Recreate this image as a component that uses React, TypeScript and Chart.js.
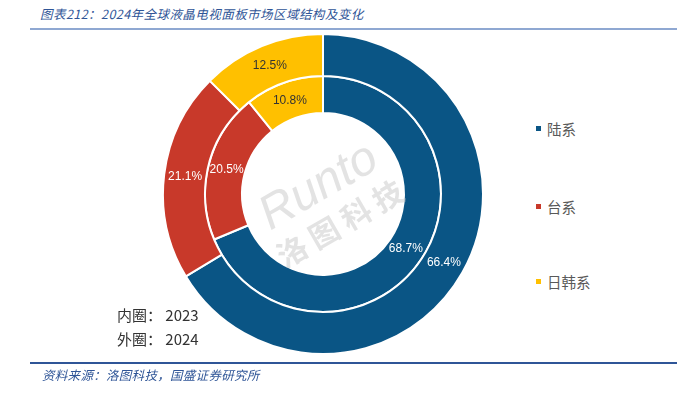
import React, { useEffect, useRef } from "react";
import { Chart, registerables } from "chart.js";

Chart.register(...registerables);

const categories = ["陆系", "台系", "日韩系"];
const outer2024 = [66.4, 21.1, 12.5];
const inner2023 = [68.7, 20.5, 10.8];
const colors = ["#0A5585", "#C8392A", "#FFC000"];
const labelColors = ["#FFFFFF", "#FFFFFF", "#333333"];

const CJK = '"Noto Sans CJK SC", "Noto Sans", sans-serif';

const labelPlugin = {
  id: "pctLabels",
  afterDatasetsDraw(chart: any) {
    const ctx = chart.ctx;
    ctx.save();
    ctx.font = '12px "Liberation Sans", Arial, sans-serif';
    ctx.textAlign = "center";
    ctx.textBaseline = "middle";
    chart.data.datasets.forEach((ds: any, di: number) => {
      const meta = chart.getDatasetMeta(di);
      meta.data.forEach((arc: any, i: number) => {
        const p = arc.tooltipPosition();
        ctx.fillStyle = labelColors[i];
        ctx.fillText(ds.data[i].toFixed(1) + "%", p.x, p.y);
      });
    });
    ctx.restore();
  },
};

const watermarkPlugin = {
  id: "watermark",
  afterDatasetsDraw(chart: any) {
    const ctx = chart.ctx;
    const meta = chart.getDatasetMeta(0);
    if (!meta.data.length) return;
    const cx = meta.data[0].x;
    const cy = meta.data[0].y;
    ctx.save();
    ctx.translate(cx, cy);
    ctx.rotate(-Math.PI / 6);
    ctx.fillStyle = "rgba(200,200,200,0.5)";
    ctx.textAlign = "center";
    ctx.textBaseline = "middle";
    ctx.font = 'italic 48px "Liberation Sans", Arial, sans-serif';
    ctx.fillText("Runto", 0, -8);
    ctx.font = "bold 30px " + CJK;
    ctx.fillText("洛 图 科 技", 0, 34);
    ctx.restore();
  },
};

export default function App() {
  const ref = useRef<HTMLCanvasElement>(null);

  useEffect(() => {
    document.body.style.margin = "0";
    const chart = new Chart(ref.current as HTMLCanvasElement, {
      type: "doughnut",
      data: {
        labels: categories,
        datasets: [
          {
            label: "2024",
            data: outer2024,
            backgroundColor: colors,
            borderColor: "#FFFFFF",
            borderWidth: 2,
            weight: 42,
          },
          {
            label: "2023",
            data: inner2023,
            backgroundColor: colors,
            borderColor: "#FFFFFF",
            borderWidth: 2,
            weight: 37,
          },
        ],
      },
      options: {
        responsive: false,
        animation: false,
        cutout: "50.6%",
        layout: { padding: 0 },
        plugins: {
          legend: { display: false },
          tooltip: { enabled: false },
        },
      },
      plugins: [watermarkPlugin, labelPlugin],
    } as any);
    return () => chart.destroy();
  }, []);

  const legendItem = (i: number, top: number) => (
    <div
      key={i}
      style={{
        position: "absolute",
        left: 536,
        top,
        display: "flex",
        alignItems: "center",
        fontFamily: CJK,
        fontSize: 14.5,
        color: "#595959",
      }}
    >
      <span
        style={{
          display: "inline-block",
          width: 5,
          height: 5,
          background: colors[i],
          marginRight: 6,
        }}
      />
      {categories[i]}
    </div>
  );

  return (
    <div style={{ position: "relative", width: 680, height: 395, background: "#fff", overflow: "hidden" }}>
      <div
        style={{
          position: "absolute",
          left: 40,
          top: 4,
          fontFamily: CJK,
          fontStyle: "italic",
          fontSize: 12.5,
          letterSpacing: 0.45,
          color: "#2F5597",
          whiteSpace: "nowrap",
        }}
      >
        图表212：2024年全球液晶电视面板市场区域结构及变化
      </div>
      <div style={{ position: "absolute", left: 30, top: 28, width: 647, height: 1.5, background: "#8FA8D2" }} />
      <canvas
        ref={ref}
        width={322}
        height={322}
        style={{ position: "absolute", left: 162, top: 33, width: 322, height: 322 }}
      />
      {legendItem(0, 118)}
      {legendItem(1, 196)}
      {legendItem(2, 271)}
      <div style={{ position: "absolute", left: 117, top: 303, fontFamily: CJK, fontSize: 15, color: "#333", lineHeight: "24px", whiteSpace: "pre" }}>
        <div>内圈： 2023</div>
        <div>外圈： 2024</div>
      </div>
      <div style={{ position: "absolute", left: 30, top: 362, width: 647, height: 1.5, background: "#2F5597" }} />
      <div
        style={{
          position: "absolute",
          left: 42,
          top: 365,
          fontFamily: CJK,
          fontStyle: "italic",
          fontSize: 12.5,
          letterSpacing: 0.3,
          color: "#2F5597",
          whiteSpace: "nowrap",
        }}
      >
        资料来源：洛图科技，国盛证券研究所
      </div>
    </div>
  );
}
